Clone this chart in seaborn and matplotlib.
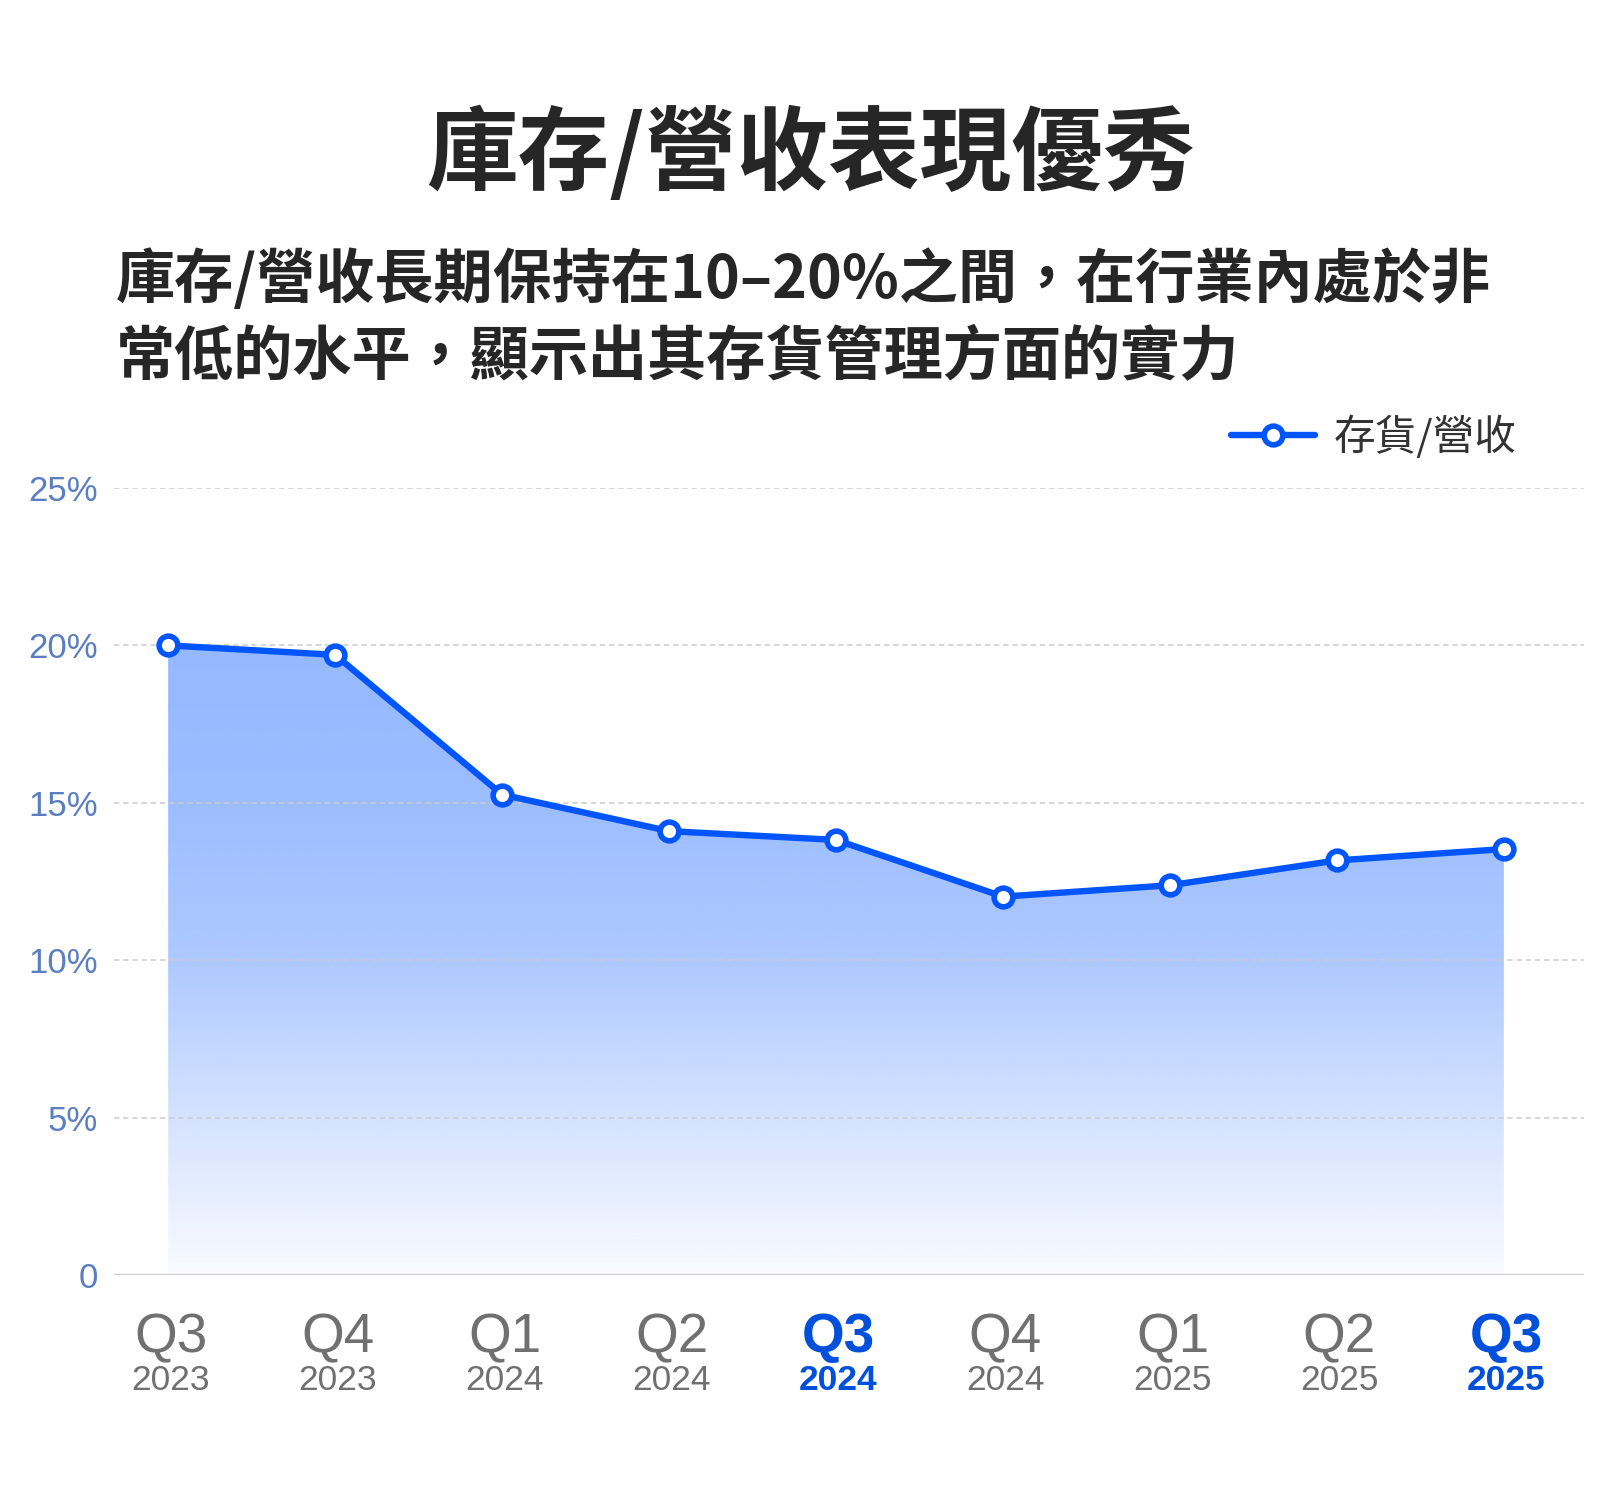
import numpy as np
import pandas as pd
import matplotlib
matplotlib.use("Agg")
import matplotlib.pyplot as plt
import matplotlib.transforms as mtransforms
import seaborn as sns

# data
quarters = ["Q3", "Q4", "Q1", "Q2", "Q3", "Q4", "Q1", "Q2", "Q3"]
years = ["2023", "2023", "2024", "2024", "2024", "2024", "2025", "2025", "2025"]
ratio = [20.0, 19.7, 15.26, 14.1, 13.82, 12.02, 12.38, 13.17, 13.53]
highlight = [False, False, False, False, True, False, False, False, True]
y_ticks = [0, 5, 10, 15, 20, 25]
y_tick_labels = ["0", "5%", "10%", "15%", "20%", "25%"]
series_name = "存貨/營收"
title = "庫存/營收表現優秀"
subtitle = ["庫存/營收長期保持在10–20%之間，在行業內處於非",
            "常低的水平，顯示出其存貨管理方面的實力"]

df = pd.DataFrame({"idx": range(len(ratio)), "ratio": ratio})

BLUE = "#0055ff"
DARK = "#262626"
GRID = "#cccccc"
YTICK = "#5b7ec0"
XGRAY = "#707070"
XBLUE = "#0050dc"

sns.set_theme(style="white")
plt.rcParams["font.family"] = ["Noto Sans CJK TC", "DejaVu Sans"]
latin = ["Liberation Sans", "DejaVu Sans"]

fig = plt.figure(figsize=(16.2, 14.85), dpi=100)
ax = fig.add_axes([0.0704, 0.1414, 0.9074, 0.53])

# gradient area under the line
poly = ax.fill_between(df["idx"], df["ratio"], 0, color="none", lw=0)
ys = np.linspace(0, max(ratio), 256)
alpha = np.interp(ys, [0, 5, 10, 15, 20], [0.03, 0.17, 0.32, 0.39, 0.42])
img = np.zeros((256, 1, 4))
img[..., 0] = 0.0
img[..., 1] = 85 / 255
img[..., 2] = 1.0
img[..., 3] = alpha[:, None]
im = ax.imshow(img, extent=[0, len(ratio) - 1, 0, max(ratio)], origin="lower",
               aspect="auto", zorder=1, interpolation="bilinear")
im.set_clip_path(poly.get_paths()[0], transform=ax.transData)

# grid
for t in y_ticks[1:]:
    ax.axhline(t, color=GRID, lw=1.1, ls=(0, (3.5, 2.5)), zorder=2)
ax.axhline(0, color=GRID, lw=1.6, zorder=2)

sns.lineplot(data=df, x="idx", y="ratio", ax=ax, color=BLUE, lw=4.6,
             marker="o", markersize=13.5, markerfacecolor="white",
             markeredgecolor=BLUE, markeredgewidth=4, label=series_name,
             zorder=5, clip_on=False)

ax.set_xlim(-0.324, 8.48)
ax.set_ylim(0, 25)
for s in ax.spines.values():
    s.set_visible(False)
ax.set_xlabel("")
ax.set_ylabel("")

ax.set_yticks(y_ticks, y_tick_labels)
ax.tick_params(axis="y", length=0, pad=11.5, labelsize=25, labelcolor=YTICK)
for lbl in ax.get_yticklabels():
    lbl.set_fontfamily(latin)
ax.set_xticks(range(len(ratio)), [""] * len(ratio))
ax.tick_params(axis="x", length=0)

trans = mtransforms.blended_transform_factory(ax.transData, fig.transFigure)
for i, (q, yr, hl) in enumerate(zip(quarters, years, highlight)):
    c = XBLUE if hl else XGRAY
    w = "bold" if hl else "normal"
    x = i + 0.015
    ax.text(x, 0.0895, q, transform=trans, ha="center", va="baseline",
            fontsize=39.5, color=c, fontweight=w, family=latin)
    ax.text(x, 0.0640, yr, transform=trans, ha="center", va="baseline",
            fontsize=25.5, color=c, fontweight=w, family=latin)

leg = ax.legend(loc="center right", bbox_to_anchor=(0.936, 0.7057),
                bbox_transform=fig.transFigure, frameon=False, fontsize=30,
                handlelength=2.0, handletextpad=0.45, borderpad=0,
                borderaxespad=0)
for t in leg.get_texts():
    t.set_color("#333333")

fig.text(0.5, 0.8956, title, ha="center", va="center", fontsize=66,
         fontweight="bold", color=DARK)
fig.text(0.0716, 1 - 280 / 1485, subtitle[0], ha="left", va="center",
         fontsize=42.6, fontweight="bold", color=DARK)
fig.text(0.0716, 1 - 358 / 1485, subtitle[1], ha="left", va="center",
         fontsize=42.6, fontweight="bold", color=DARK)

fig.savefig("out.png", dpi=100, facecolor="white")
